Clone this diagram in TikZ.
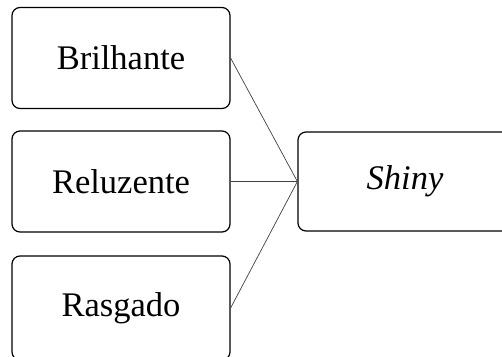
\documentclass[tikz,border=0pt]{standalone}
\usepackage{fontspec}
\setmainfont{Liberation Serif}
\begin{document}
\begin{tikzpicture}[x=1pt, y=-1pt,
    caixa/.style={draw, line width=1.2pt, rounded corners=8pt, inner sep=0pt,
      minimum width=218pt, minimum height=101pt, font=\fontsize{34.5}{40}\selectfont},
    ligacao/.style={draw=black!75, line width=0.7pt}]
  \useasboundingbox (0,0) rectangle (502,356);
  % caixas da esquerda
  \node[caixa] (brilhante) at (121,58) {Brilhante};
  \node[caixa] (reluzente) at (121,181.5) {Reluzente};
  \node[caixa, minimum height=104pt] (rasgado) at (121,308) {Rasgado};
  
  % caixa da direita
  \node[caixa, minimum width=214pt, minimum height=99pt] (shiny) at (405,181.5) {\itshape Shiny};
  
  \foreach \n in {brilhante, reluzente, rasgado}
    \draw[ligacao] (\n.east) -- (shiny.west);
\end{tikzpicture}
\end{document}
